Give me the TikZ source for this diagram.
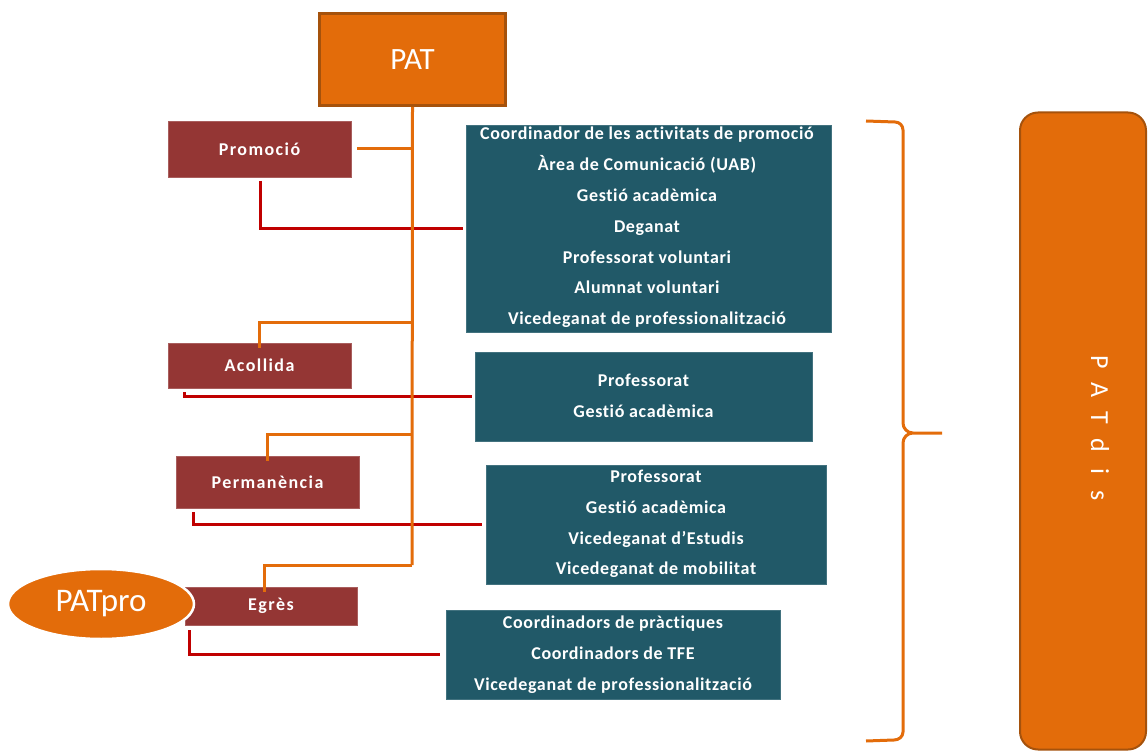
\documentclass[tikz,border=0pt]{standalone}
\usepackage{fontspec}
\setmainfont{Carlito}[Ligatures=NoCommon]
\usetikzlibrary{shapes.geometric}
\definecolor{patorange}{HTML}{E36C0A}
\definecolor{patborder}{HTML}{A5520C}
\definecolor{phasered}{HTML}{943634}
\definecolor{teambox}{HTML}{215968}
\definecolor{linkred}{HTML}{C00000}
\tikzset{
  orangeline/.style={draw=patorange, line width=3pt},
  redline/.style={draw=linkred, line width=3pt},
  phasebox/.style={fill=phasered, draw=phasered!80!white, line width=0.5pt, inner sep=0pt,
     text=white, font=\fontsize{18}{21}\selectfont\bfseries\addfontfeature{LetterSpace=8}},
  teamrect/.style={fill=teambox, draw=teambox!85!white, line width=0.5pt, inner sep=0pt},
  teamtext/.style={text=white, align=center, inner sep=0pt,
     font=\fontsize{18}{30.8}\selectfont\bfseries\addfontfeature{LetterSpace=3.5}},
}
\begin{document}
\begin{tikzpicture}[x=1pt,y=-1pt]
\useasboundingbox (0,0) rectangle (1148,751);
% top box
\node[fill=patorange, draw=patborder, line width=3pt, minimum width=186pt, minimum height=92pt,
  text=white, font=\fontsize{31}{35}\selectfont] (pat) at (412.5,59.5) {PAT};
% phase boxes
\node[phasebox, minimum width=183pt, minimum height=56pt] (promo) at (259.5,149) {Promoció};
\node[phasebox, minimum width=183pt, minimum height=45pt] (acoll) at (259.5,365.5) {Acollida};
\node[phasebox, minimum width=183pt, minimum height=52pt] (perma) at (267.5,482) {Permanència};
\node[phasebox, minimum width=172pt, minimum height=38pt] (egres) at (271,606) {Egrès};
% team boxes
\node[teamrect, minimum width=365pt, minimum height=207pt] (team1) at (648.5,228.5) {};
\node[teamtext] (t1) at (647,227.5) {Coordinador de les activitats de promoció\\Àrea de Comunicació (UAB)\\Gestió acadèmica\\Deganat\\Professorat voluntari\\Alumnat voluntari\\Vicedeganat de professionalització};
\node[teamrect, minimum width=337pt, minimum height=89pt] (team2) at (643.5,396.5) {};
\node[teamtext] (t2) at (643.5,396) {Professorat\\Gestió acadèmica};
\node[teamrect, minimum width=340pt, minimum height=119pt] (team3) at (656,524.5) {};
\node[teamtext] (t3) at (656,524) {Professorat\\Gestió acadèmica\\Vicedeganat d’Estudis\\Vicedeganat de mobilitat};
\node[teamrect, minimum width=334pt, minimum height=89pt] (team4) at (613,654.5) {};
\node[teamtext] (t4) at (613,654.5) {Coordinadors de pràctiques\\Coordinadors de TFE\\Vicedeganat de professionalització};
% PATpro
\node[ellipse, fill=patorange, draw=white, line width=2.5pt, minimum width=186pt, minimum height=70pt,
  inner sep=0pt, text=white, font=\fontsize{33}{37}\selectfont] (patpro) at (101,604) {PATpro};
% red links
\coordinate (r1) at (260,181);
\coordinate (r2) at (184,392);
\coordinate (r3) at (193,512);
\coordinate (r4) at (189,630);
\draw[redline] (r1) |- ([xshift=-3pt]team1.west);
\draw[redline] (r2) |- ([xshift=-3pt]team2.west);
\draw[redline] (r3) |- ([xshift=-4pt]team3.west);
\draw[redline] (r4) |- ([xshift=-6pt]team4.west);
% orange tree
\coordinate (trunkend) at (412,565);
\draw[orangeline] (pat.south) -- (trunkend);
\draw[orangeline] ([xshift=6pt]promo.east) -- (pat.south |- promo.east);
\draw[orangeline] (412,322) -| ([yshift=-5pt]acoll.north);
\draw[orangeline] (412,434) -| ([yshift=-5pt]perma.north);
\draw[orangeline] (trunkend) -| ([xshift=-7pt,yshift=-5pt]egres.north);
% brace
\draw[orangeline, line width=3pt, line join=round]
  (866,121) -- (895,122) to[out=0,in=90] (903,130) -- (903,423) to[out=-90,in=180] (913,433) -- (942,433)
  (913,433) to[out=180,in=90] (903,443) -- (903,732) to[out=-90,in=0] (894,740) -- (866,741);
% PATdis
\node[fill=patorange, draw=patborder, line width=2pt, rounded corners=18pt,
  minimum width=126pt, minimum height=637pt] (patdis) at (1083,431) {};
\node[rotate=-90, text=white, font=\fontsize{26}{30}\selectfont\addfontfeature{LetterSpace=62}] (patdistext) at (1100,428) {PATdis};
\end{tikzpicture}
\end{document}
